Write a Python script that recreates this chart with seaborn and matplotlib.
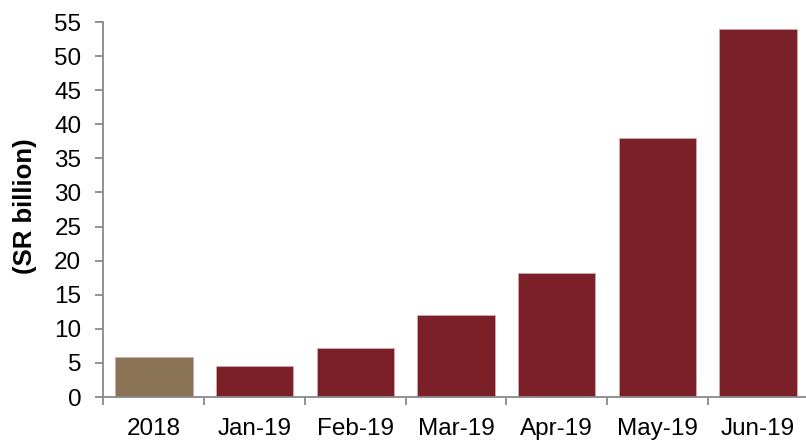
import matplotlib
matplotlib.use("Agg")
import matplotlib.pyplot as plt
import seaborn as sns
import pandas as pd
import numpy as np

categories = ["2018", "Jan-19", "Feb-19", "Mar-19", "Apr-19", "May-19", "Jun-19"]
values = [5.8, 4.5, 7.2, 12.1, 18.2, 38.0, 54.0]
colors = ["#8B7355", "#7B2028", "#7B2028", "#7B2028", "#7B2028", "#7B2028", "#7B2028"]
yticks = list(range(0, 60, 5))

sns.set_theme(style="white")
plt.rcParams["font.family"] = ["Liberation Sans", "DejaVu Sans"]

df = pd.DataFrame({"cat": categories, "val": values})

fig = plt.figure(figsize=(8.06, 4.41), dpi=100)
ax = fig.add_axes([103.5/806, 44/441, 705/806, 375/441])
sns.barplot(data=df, x="cat", y="val", hue="cat", palette=colors, width=0.77,
            legend=False, ax=ax, saturation=1, edgecolor="#d9a8ad", linewidth=0.6)

ax.set_xlim(-0.5, 6.5)
ax.set_ylim(0, 55)
ax.set_yticks(yticks)
ax.set_yticklabels([str(t) for t in yticks], fontsize=17.5, color="black")
ax.set_xticks(range(len(categories)))
ax.set_xticklabels(categories, fontsize=17.5, color="black")
ax.set_xticks(np.arange(-0.5, 7, 1.0), minor=True)
ax.tick_params(axis="x", which="major", length=0, pad=15)
ax.tick_params(axis="x", which="minor", length=6, width=1.3, color="#898989", direction="out", bottom=True)
ax.tick_params(axis="y", which="major", length=6, width=1.3, color="#898989", direction="out", left=True, pad=10)

for s in ["top", "right"]:
    ax.spines[s].set_visible(False)
for s in ["left", "bottom"]:
    ax.spines[s].set_color("#898989")
    ax.spines[s].set_linewidth(1.3)

ax.set_xlabel("")
ax.set_ylabel("(SR billion)", fontsize=18.5, fontweight="bold", color="black")
ax.yaxis.set_label_coords((25 - 103.5) / 705, 0.51)
ax.yaxis.label.set_va("center")

fig.savefig("out.png", dpi=100)
